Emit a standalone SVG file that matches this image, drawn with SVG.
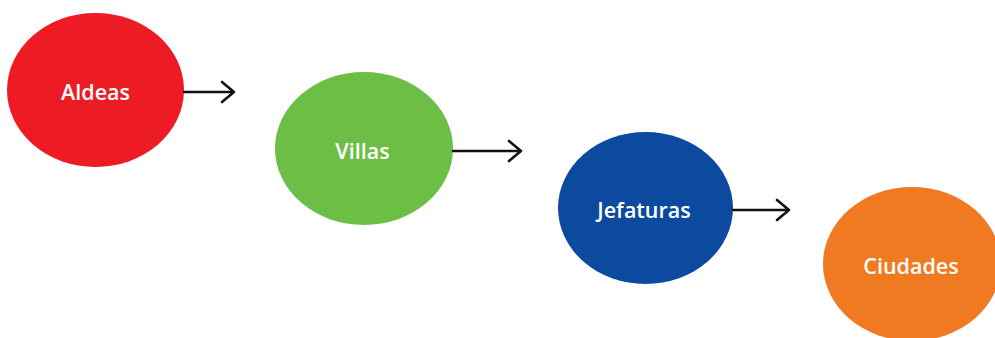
<svg xmlns="http://www.w3.org/2000/svg" width="995" height="338" viewBox="0 0 995 338">
<style>
.lbl{font-family:"Open Sans","Liberation Sans",sans-serif;font-weight:600;font-size:21.5px;fill:#fff;text-anchor:middle;dominant-baseline:central}
.conn{stroke:#111;stroke-width:2.6;fill:none;stroke-linecap:round;stroke-linejoin:round}
</style>
<rect width="995" height="338" fill="#fff"/>
<g id="aldeas"><ellipse cx="95.5" cy="90" rx="88.5" ry="77" fill="#ED1C24"/><text class="lbl" x="95.5" y="91">Aldeas</text></g>
<g id="villas"><ellipse cx="364" cy="148.5" rx="89" ry="76.5" fill="#6DBE45"/><text class="lbl" x="362.5" y="150">Villas</text></g>
<g id="jefaturas"><ellipse cx="645.5" cy="208" rx="87.5" ry="76" fill="#0B4A9E"/><text class="lbl" x="644" y="209">Jefaturas</text></g>
<g id="ciudades"><ellipse cx="912" cy="264" rx="89" ry="77" fill="#F07A22"/><text class="lbl" x="911" y="265">Ciudades</text></g>
<g id="connectors">
<path class="conn" d="M184 92 H234 M222 82 L234 92 L222 102"/>
<path class="conn" d="M453 151 H521 M509 141 L521 151 L509 161"/>
<path class="conn" d="M733 210 H789 M777 200 L789 210 L777 220"/>
</g>
</svg>
